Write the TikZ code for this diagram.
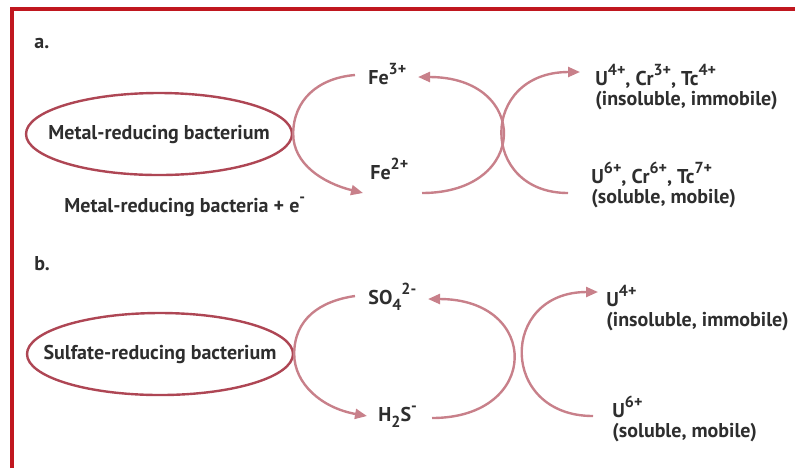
\documentclass[tikz,border=0pt]{standalone}
\usepackage{fontspec}
\setmainfont{PT Sans}
\usetikzlibrary{shapes.geometric, arrows.meta}

\definecolor{framered}{HTML}{C0171F}
\definecolor{ovalred}{HTML}{AE4654}
\definecolor{cyclepink}{HTML}{C8808A}
\definecolor{inkgray}{HTML}{2E2E2E}

% charges and counts, larger than \textsuperscript
\newcommand{\ionup}[1]{\raisebox{0.5em}{\fontsize{8}{8}\selectfont #1}}
\newcommand{\iondown}[1]{\raisebox{-0.3em}{\fontsize{8}{8}\selectfont #1}}

\begin{document}
\begin{tikzpicture}[
  x=0.5pt, y=-0.5pt,
  every node/.style={font=\fontsize{10}{10}\selectfont\bfseries, text=inkgray, inner sep=0pt},
  bug/.style={draw=ovalred, ellipse, line width=1.2pt, minimum width=133pt, minimum height=41pt},
  ion/.style={anchor=north west, align=left},
  cycle/.style={draw=cyclepink, line width=1.2pt},
  tip/.style={-{Triangle[length=6pt, width=5pt]}}
]
\useasboundingbox (0,0) rectangle (795,468);
\draw[framered, line width=2.4pt] (12,468) -- (12,9) -- (795,9);

% a. metal-reducing bacterium
\node[anchor=base west] (tag-a) at (34,48) {a.};
\node[bug, label=center:{Metal-reducing bacterium}] (bug-a) at (159,134) {};
\node[anchor=base west] (fe3) at (368,84) {Fe\ionup{3+}};
\node[anchor=base west] (fe2) at (370,179) {Fe\ionup{2+}};
\node[anchor=base west] (electron) at (64,212) {Metal-reducing bacteria + e\ionup{-}};
\node[ion] (ua4) at (595,64) {U\ionup{4+}, Cr\ionup{3+}, Tc\ionup{4+}\\(insoluble, immobile)};
\node[ion] (ua6) at (591,162) {U\ionup{6+}, Cr\ionup{6+}, Tc\ionup{7+}\\(soluble, mobile)};

\draw[cycle] (bug-a.east) .. controls +(0,-34) and +(-37,3) .. ([shift={(-13,-9)}]fe3.base west);
\draw[cycle, tip] (bug-a.east) .. controls +(0,30) and +(-40,-10) .. ([shift={(-7,14)}]fe2.base west);
\draw[cycle, tip] ([shift={(52,14)}]fe2.base west) .. controls +(108,0) and +(112,0) .. ([shift={(50,-7)}]fe3.base west);
\draw[cycle, tip] ([shift={(-23,31)}]ua6.north west) .. controls +(-89,0) and +(-101,0) .. ([shift={(-15,8)}]ua4.north west);

% b. sulfate-reducing bacterium
\node[anchor=base west] (tag-b) at (34,270) {b.};
\node[bug, label=center:{Sulfate-reducing bacterium}] (bug-b) at (160,354) {};
\node[anchor=base west] (so4) at (368,304) {SO\iondown{4}\ionup{2-}};
\node[anchor=base west] (h2s) at (378,421) {H\iondown{2}S\ionup{-}};
\node[ion] (ub4) at (606,285) {U\ionup{4+}\\(insoluble, immobile)};
\node[ion] (ub6) at (612,396) {U\ionup{6+}\\(soluble, mobile)};

\draw[cycle] (bug-b.east) .. controls +(0,-35) and +(-35,5) .. ([shift={(-13,-8)}]so4.base west);
\draw[cycle, tip] (bug-b.east) .. controls +(0,30) and +(-45,-8) .. ([shift={(-11,-5)}]h2s.base west);
\draw[cycle, tip] ([shift={(54,-3)}]h2s.base west) .. controls +(109,0) and +(113,0) .. ([shift={(60,-5)}]so4.base west);
\draw[cycle, tip] ([shift={(-19,20)}]ub6.north west) .. controls +(-94,0) and +(-99,0) .. ([shift={(-8,7)}]ub4.north west);
\end{tikzpicture}
\end{document}
